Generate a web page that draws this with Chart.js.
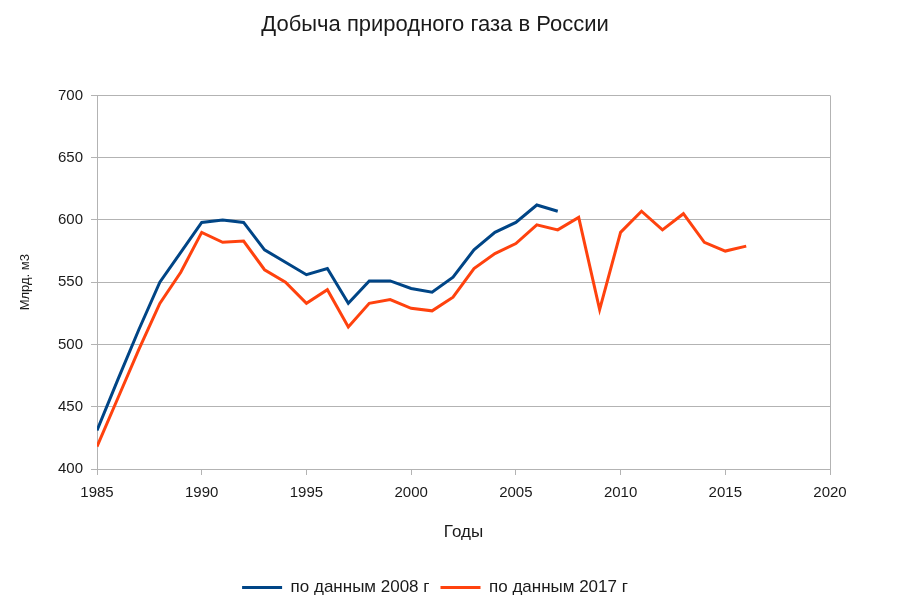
<!DOCTYPE html>
<html>
<head>
<meta charset="utf-8">
<title>Добыча природного газа в России</title>
<script src="https://cdn.jsdelivr.net/npm/chart.js@4/dist/chart.umd.min.js"></script>
<style>
  body { margin: 0; background: #ffffff; }
  #gazChart { display: block; }
</style>
</head>
<body>
<canvas id="gazChart" width="919" height="612"></canvas>
<script>
//donnees du graphique
const annees2008 = [1985, 1986, 1987, 1988, 1989, 1990, 1991, 1992, 1993, 1994, 1995, 1996,
  1997, 1998, 1999, 2000, 2001, 2002, 2003, 2004, 2005, 2006, 2007];
const valeurs2008 = [431, 472, 512, 550, 574, 598, 600, 598, 576, 566, 556, 561,
  533, 551, 551, 545, 542, 554, 576, 590, 598, 612, 607];

const annees2017 = [1985, 1986, 1987, 1988, 1989, 1990, 1991, 1992, 1993, 1994, 1995, 1996,
  1997, 1998, 1999, 2000, 2001, 2002, 2003, 2004, 2005, 2006, 2007, 2008, 2009, 2010,
  2011, 2012, 2013, 2014, 2015, 2016];
const valeurs2017 = [418, 457, 496, 533, 558, 590, 582, 583, 560, 550, 533, 544,
  514, 533, 536, 529, 527, 538, 561, 573, 581, 596, 592, 602, 528, 590,
  607, 592, 605, 582, 575, 579];

const labelsSeries = ['по данным 2008 г', 'по данным 2017 г'];
const ticksY = [400, 450, 500, 550, 600, 650, 700];
const ticksX = [1985, 1990, 1995, 2000, 2005, 2010, 2015, 2020];

const gris = '#b3b3b3';
const police = 'Liberation Sans, Arial, sans-serif';

//construction des points
function points(annees, valeurs){
  return annees.map((a, i) => ({ x: a, y: valeurs[i] }));
}

const ctx = document.getElementById('gazChart').getContext('2d');
const gazChart = new Chart(ctx, {
  type: 'line',
  data: {
    datasets: [{
      label: labelsSeries[0],
      data: points(annees2008, valeurs2008),
      borderColor: '#004586',
      backgroundColor: '#004586',
      borderWidth: 3,
      pointRadius: 0,
      tension: 0
    }, {
      label: labelsSeries[1],
      data: points(annees2017, valeurs2017),
      borderColor: '#ff420e',
      backgroundColor: '#ff420e',
      borderWidth: 3,
      pointRadius: 0,
      tension: 0
    }]
  },
  options: {
    responsive: false,
    animation: false,
    layout: { padding: { left: 0, right: 49, top: 0, bottom: 6 } },
    plugins: {
      title: {
        display: true,
        text: 'Добыча природного газа в России',
        color: '#1a1a1a',
        font: { family: police, size: 22, weight: 'normal' },
        padding: { top: 12, bottom: 57 }
      },
      legend: {
        position: 'bottom',
        labels: {
          usePointStyle: true,
          pointStyle: 'line',
          pointStyleWidth: 40,
          boxHeight: 3,
          color: '#1a1a1a',
          font: { family: police, size: 17 },
          padding: 11
        }
      },
      tooltip: { enabled: false }
    },
    scales: {
      x: {
        type: 'linear',
        min: 1985,
        max: 2020,
        afterBuildTicks: (scale) => { scale.ticks = ticksX.map(v => ({ value: v })); },
        afterFit: (scale) => { scale.height = 99; },
        ticks: {
          color: '#1a1a1a',
          font: { family: police, size: 15 },
          padding: 9,
          maxRotation: 0,
          callback: (v) => String(v)
        },
        grid: {
          drawOnChartArea: true,
          tickLength: 6,
          tickColor: gris,
          color: (c) => (c.tick && (c.tick.value === 1985 || c.tick.value === 2020)) ? gris : 'rgba(0,0,0,0)'
        },
        border: { color: gris },
        title: {
          display: true,
          text: 'Годы',
          color: '#1a1a1a',
          font: { family: police, size: 17 },
          padding: { top: 0, bottom: 25 }
        }
      },
      y: {
        min: 400,
        max: 700,
        afterBuildTicks: (scale) => { scale.ticks = ticksY.map(v => ({ value: v })); },
        afterFit: (scale) => { scale.width = 97; },
        ticks: {
          color: '#1a1a1a',
          font: { family: police, size: 15 },
          padding: 8
        },
        grid: { color: gris, tickLength: 6, tickColor: gris },
        border: { color: gris },
        title: {
          display: true,
          text: 'Млрд. м3',
          color: '#1a1a1a',
          font: { family: police, size: 13 },
          padding: { top: 18, bottom: 0 }
        }
      },
      //axe vide a droite pour garder la marge
      marge: {
        position: 'right',
        min: 400,
        max: 700,
        afterFit: (scale) => { scale.width = 40; },
        ticks: { display: false },
        grid: { display: false },
        border: { display: false }
      }
    }
  }
});
</script>
</body>
</html>
